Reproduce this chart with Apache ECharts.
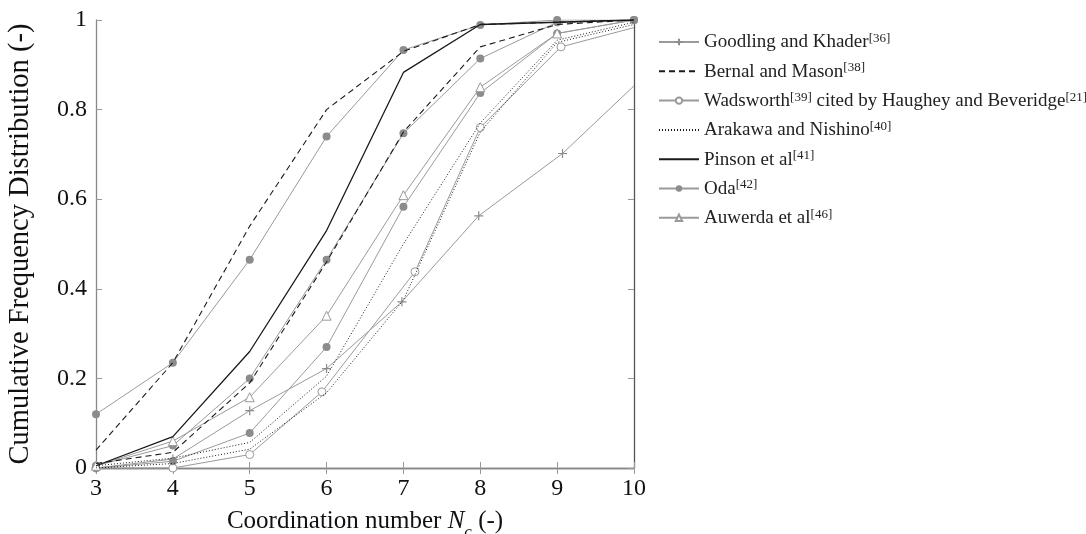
<!DOCTYPE html>
<html>
<head>
<meta charset="utf-8">
<script src="https://cdn.jsdelivr.net/npm/echarts@6/dist/echarts.min.js"></script>
<style>
  html, body { margin: 0; padding: 0; background: #fff; }
  #chart { width: 1086px; height: 534px; }
</style>
</head>
<body>
<div id="chart"></div>
<script>
// Cumulative frequency distribution of the coordination number, several literature sources.
const xTicks = [3, 4, 5, 6, 7, 8, 9, 10];
const yTicks = [0, 0.2, 0.4, 0.6, 0.8, 1];

// [coordination number, cumulative frequency]
const goodling = [[3, 0.0], [4, 0.02], [5, 0.128], [6, 0.222], [6.98, 0.371], [7.98, 0.563], [9.07, 0.702], [10, 0.853]];
const bernalA = [[3, 0.04], [4, 0.235], [5, 0.54], [6, 0.8], [7, 0.93], [8, 0.99], [9, 0.995], [10, 1.0]];
const bernalB = [[3, 0.01], [4, 0.035], [5, 0.19], [6, 0.46], [7, 0.75], [8, 0.94], [9, 0.99], [10, 1.0]];
const wadsworth = [[3, 0.0], [4, 0.0], [5, 0.03], [5.94, 0.17], [7.15, 0.438], [8.0, 0.76], [9.05, 0.94], [10, 0.983]];
const arakawaA = [[3, 0.005], [4, 0.022], [5, 0.057], [6, 0.205], [7, 0.5], [8, 0.77], [9, 0.955], [10, 0.995]];
const arakawaB = [[3, 0.0], [4, 0.01], [5, 0.042], [6, 0.168], [7, 0.375], [8, 0.75], [9, 0.95], [10, 0.99]];
const pinson = [[3, 0.005], [4, 0.07], [5, 0.26], [6, 0.53], [7, 0.883], [8, 0.99], [9, 0.995], [10, 1.0]];
const odaA = [[3, 0.12], [4, 0.235], [5, 0.465], [6, 0.74], [7, 0.933], [8, 0.989], [9, 1.0], [10, 1.0]];
const odaB = [[3, 0.005], [4, 0.05], [5, 0.2], [6, 0.465], [7, 0.747], [8, 0.914], [9, 0.995], [10, 1.0]];
const odaC = [[3, 0.0], [4, 0.015], [5, 0.078], [6, 0.27], [7, 0.583], [8, 0.837], [9, 0.97], [10, 1.0]];
const auwerda = [[3, 0.005], [4, 0.06], [5, 0.158], [6, 0.34], [7, 0.609], [8, 0.85], [9, 0.97], [10, 1.0]];

const names = [
  'Goodling and Khader',
  'Bernal and Mason',
  'Wadsworth cited by Haughey and Beveridge',
  'Arakawa and Nishino',
  'Pinson et al',
  'Oda',
  'Auwerda et al'
];
const legendRich = {
  'Goodling and Khader': '{n|Goodling and Khader}{s|[36]}',
  'Bernal and Mason': '{n|Bernal and Mason}{s|[38]}',
  'Wadsworth cited by Haughey and Beveridge': '{n|Wadsworth}{s|[39]}{n| cited by Haughey and Beveridge}{s|[21]}',
  'Arakawa and Nishino': '{n|Arakawa and Nishino}{s|[40]}',
  'Pinson et al': '{n|Pinson et al}{s|[41]}',
  'Oda': '{n|Oda}{s|[42]}',
  'Auwerda et al': '{n|Auwerda et al}{s|[46]}'
};
// entries drawn as a plain line, without a marker
const plainLine = ['Bernal and Mason', 'Arakawa and Nishino', 'Pinson et al'];

const GRAY = '#9a9a9a';
const MARK = '#8c8c8c';
const BLACK = '#1a1a1a';
const FONT = '"Liberation Serif", "DejaVu Serif", serif';

// hide the marker on the last point of a series
function lastBare(arr) {
  return arr.map((p, i) => i === arr.length - 1 ? { value: p, symbol: 'none' } : p);
}

const plus = 'path://M0,5L10,5M5,0L5,10';

function grayLine(name, data, symbol, size, itemStyle) {
  return {
    name, type: 'line', data, symbol, symbolSize: size, z: 2,
    lineStyle: { color: GRAY, width: 1 },
    itemStyle: itemStyle,
    emphasis: { disabled: true }, animation: false
  };
}
function blackLine(name, data, type, width) {
  return {
    name, type: 'line', data, symbol: 'none', z: 3,
    lineStyle: { color: BLACK, width: width, type: type },
    itemStyle: { color: BLACK },
    emphasis: { disabled: true }, animation: false
  };
}

const series = [
  grayLine(names[0], lastBare(goodling), plus, 9, { color: MARK, borderColor: MARK, borderWidth: 1.2 }),
  blackLine(names[1], bernalA, [6, 4], 1.1),
  blackLine(names[1], bernalB, [6, 4], 1.1),
  grayLine(names[2], lastBare(wadsworth), 'circle', 8, { color: '#fff', borderColor: GRAY, borderWidth: 1 }),
  blackLine(names[3], arakawaA, [1, 2], 1),
  blackLine(names[3], arakawaB, [1, 2], 1),
  blackLine(names[4], pinson, 'solid', 1.3),
  grayLine(names[5], odaA, 'circle', 8, { color: MARK, borderColor: MARK, borderWidth: 0 }),
  grayLine(names[5], odaB, 'circle', 8, { color: MARK, borderColor: MARK, borderWidth: 0 }),
  grayLine(names[5], odaC, 'circle', 8, { color: MARK, borderColor: MARK, borderWidth: 0 }),
  grayLine(names[6], lastBare(auwerda), 'triangle', 9, { color: '#fff', borderColor: GRAY, borderWidth: 1 })
];

const chart = echarts.init(document.getElementById('chart'), null, { renderer: 'canvas' });
chart.setOption({
  backgroundColor: '#fff',
  animation: false,
  grid: { left: 96, right: 452, top: 20, bottom: 66, containLabel: false, outerBoundsMode: 'none' },
  legend: {
    orient: 'vertical',
    left: 658, top: 32, padding: 0,
    itemWidth: 40, itemHeight: 8, itemGap: 8.3,
    data: names.map(n => plainLine.includes(n)
      ? { name: n, itemStyle: { opacity: 0 } }
      : { name: n }),
    formatter: n => legendRich[n],
    textStyle: {
      fontFamily: FONT, fontSize: 19, color: '#222',
      rich: {
        n: { fontFamily: FONT, fontSize: 19, color: '#222', lineHeight: 20, verticalAlign: 'bottom' },
        s: { fontFamily: FONT, fontSize: 13, color: '#222', lineHeight: 20, verticalAlign: 'top', padding: [0, 0, 8, 0] }
      }
    },
    selectedMode: false
  },
  xAxis: [
    {
      type: 'value', min: 3, max: 10, interval: 1, position: 'bottom',
      axisLine: { lineStyle: { color: '#222', width: 1.3 } },
      axisTick: { inside: true, length: 6, lineStyle: { color: '#999' } },
      axisLabel: { color: '#111', fontFamily: FONT, fontSize: 24, margin: 9,
        formatter: v => xTicks.includes(v) ? String(v) : '' },
      splitLine: { show: false },
      name: '{a|Coordination number }{i|N}{c|c}{a| (-)}',
      nameLocation: 'middle', nameGap: 41,
      nameTextStyle: {
        rich: {
          a: { fontFamily: FONT, fontSize: 25, color: '#111' },
          i: { fontFamily: FONT, fontSize: 25, color: '#111', fontStyle: 'italic' },
          c: { fontFamily: FONT, fontSize: 17, color: '#111', fontStyle: 'italic', verticalAlign: 'bottom', padding: [0, 0, -7, 0] }
        }
      }
    },
    {
      type: 'value', min: 3, max: 10, interval: 1, position: 'top',
      axisLine: { lineStyle: { color: '#888', width: 1.2 } },
      axisTick: { inside: true, length: 6, lineStyle: { color: '#999' } },
      axisLabel: { show: false }, splitLine: { show: false }
    }
  ],
  yAxis: [
    {
      type: 'value', min: 0, max: 1, interval: 0.2, position: 'left',
      axisLine: { show: true, lineStyle: { color: '#888', width: 1.3 } },
      axisTick: { show: true, inside: true, length: 6, lineStyle: { color: '#999' } },
      axisLabel: { color: '#111', fontFamily: FONT, fontSize: 24, margin: 9,
        formatter: v => { const t = yTicks.find(k => Math.abs(k - v) < 1e-6); return t === undefined ? '' : String(t); } },
      splitLine: { show: false },
      name: 'Cumulative Frequency Distribution (-)',
      nameLocation: 'middle', nameGap: 61, nameRotate: 90,
      nameTextStyle: { fontFamily: FONT, fontSize: 28.5, color: '#111' }
    },
    {
      type: 'value', min: 0, max: 1, interval: 0.2, position: 'right',
      axisLine: { show: true, lineStyle: { color: '#555', width: 1.3 } },
      axisTick: { show: true, inside: true, length: 6, lineStyle: { color: '#999' } },
      axisLabel: { show: false }, splitLine: { show: false }
    }
  ],
  series: series
});
</script>
</body>
</html>
